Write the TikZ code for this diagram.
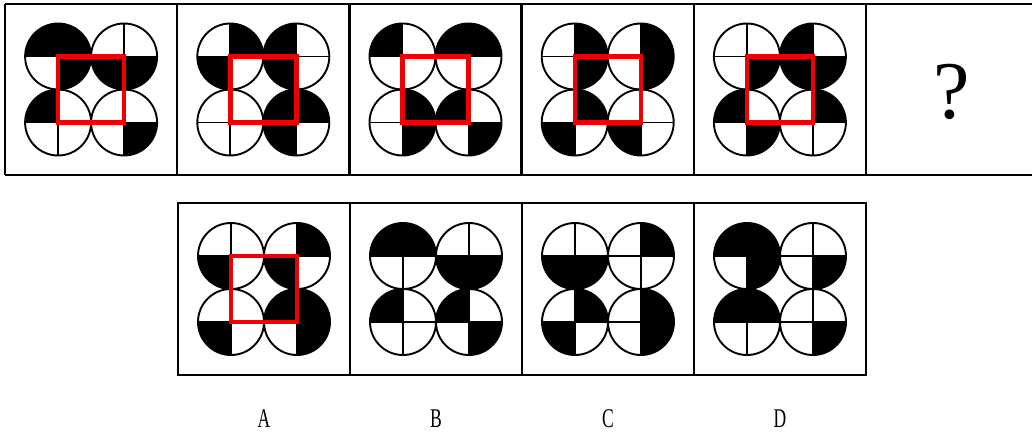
\documentclass[tikz,border=0pt]{standalone}
\usepackage{fontspec}
\setmainfont{Liberation Serif}
\usepackage{tikz}
\definecolor{markRed}{HTML}{F00000}

\begin{document}
\begin{tikzpicture}[x=1pt, y=1pt,
  frame/.style={line width=2.4pt},
  disc/.style={line width=1.9pt},
  hilite/.style={markRed, line width=4.4pt},
  optlabel/.style={inner sep=1pt, font=\fontsize{27}{27}\selectfont}]
\useasboundingbox (0,0) rectangle (1032,434);
% outer frames
\draw[frame] (5,430) -- (1032,430) (5,259) -- (1032,259);
\foreach \x in {5,177.2,349.4,521.6,693.8,866}
  \draw[frame] (\x,430) -- (\x,259);
\draw[frame] (178,231) rectangle (866,59);
\foreach \x in {350,522,694}
  \draw[frame] (\x,231) -- (\x,59);
% panels: centre / black quarters (circle/quarter) / red square
\foreach \cx/\cy/\blk/\sq in {
  91.1/344.5/{1/1,1/0,1/3,2/2,2/3,3/1,4/3}/1,
  263.3/344.5/{1/0,1/2,2/1,2/2,4/1,4/0,4/2}/1,
  435.5/344.5/{1/1,2/1,2/0,3/0,3/3,4/1,4/3}/1,
  607.7/344.5/{1/0,1/3,2/0,2/3,3/0,3/2,4/2}/1,
  779.9/344.5/{1/3,2/1,2/2,2/3,3/1,3/3,4/0}/1,
  264/145/{1/2,2/0,2/2,3/2,4/1,4/0,4/3}/1,
  436/145/{1/1,1/0,2/2,2/3,3/1,4/1,4/3}/0,
  608/145/{1/2,1/3,2/0,3/0,3/2,4/0,4/3}/0,
  780/145/{1/1,1/0,1/3,2/3,3/1,3/0,4/3}/0} {
  \coordinate (c1) at (\cx-33,\cy+33);
  \coordinate (c2) at (\cx+33,\cy+33);
  \coordinate (c3) at (\cx-33,\cy-33);
  \coordinate (c4) at (\cx+33,\cy-33);
  \foreach \k/\q in \blk
    \fill (c\k) -- ++(\q*90:33) arc[start angle=\q*90, delta angle=90, radius=33] -- cycle;
  \foreach \k in {1,...,4} {
    \draw[disc] ([xshift=-33pt]c\k) -- ([xshift=33pt]c\k);
    \draw[disc] ([yshift=-33pt]c\k) -- ([yshift=33pt]c\k);
    \draw[disc] (c\k) circle[radius=33];
  }
  \ifnum\sq=1 \draw[hilite] (c1) rectangle (c4); \fi
}
% question mark and option letters
\node (qmark) at (952,342) {\fontsize{82}{82}\selectfont ?};
\foreach \t/\x in {A/264,B/436,C/608,D/780}
  \node[optlabel] (lab\t) at (\x,15) {\scalebox{0.65}[1]{\t}};
\end{tikzpicture}
\end{document}
